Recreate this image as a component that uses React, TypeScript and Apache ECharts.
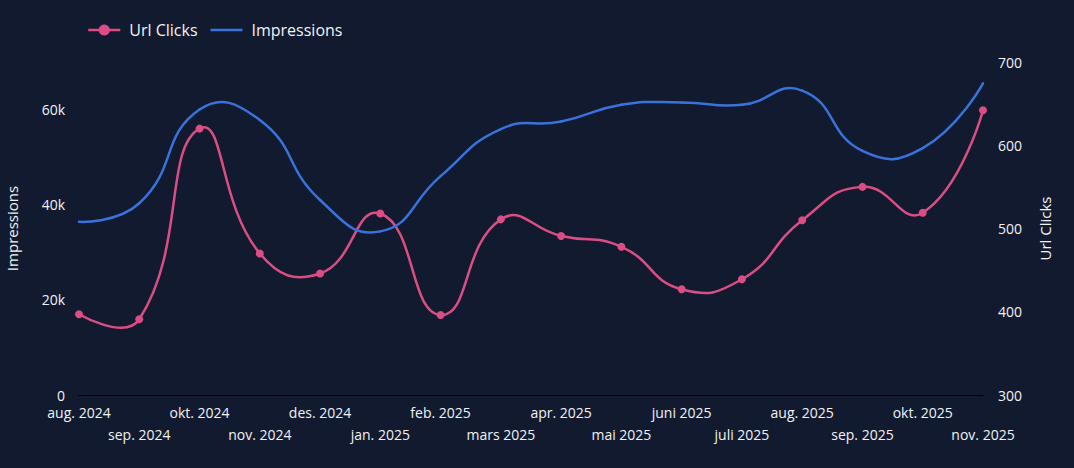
import React, { useEffect, useRef } from "react";
import * as echarts from "echarts";

const months = [
  "aug. 2024", "sep. 2024", "okt. 2024", "nov. 2024", "des. 2024", "jan. 2025",
  "feb. 2025", "mars 2025", "apr. 2025", "mai 2025", "juni 2025", "juli 2025",
  "aug. 2025", "sep. 2025", "okt. 2025", "nov. 2025",
];

const urlClicks = [397, 391, 620, 470, 446, 518, 396, 511, 491, 478, 427, 439, 510, 550, 519, 642];

const impressions = [
  36400, 40300, 60000, 57800, 41000, 34400, 46000, 55900, 57500, 61000, 61500, 61000,
  64000, 51300, 51900, 65500,
];

const BG = "#111a2e";
const PINK = "#dc4d85";
const BLUE = "#3a72dd";
const TEXT = "#f2f2f5";
const FONT = "'Open Sans', Lato, sans-serif";
const SMOOTH = 0.5;

// Spline through the projected points: each point's control handles lie along
// the chord (next - prev), split by the lengths of the neighbouring segments.
function splineSeries(values: number[], yAxisIndex: number, color: string, z: number) {
  return {
    type: "custom",
    yAxisIndex,
    z,
    silent: true,
    data: values.map((v, i) => [i, v]),
    encode: { x: 0, y: 1 },
    renderItem: (params: any, api: any) => {
      const k = params.dataIndex;
      const n = values.length;
      if (k >= n - 1) return null;
      const pts: number[][] = values.map((v, j) => api.coord([j, v]));
      const handles = (j: number) => {
        const p = pts[j];
        if (j === 0 || j === n - 1) return { inP: p, outP: p };
        const prev = pts[j - 1];
        const next = pts[j + 1];
        const vx = next[0] - prev[0];
        const vy = next[1] - prev[1];
        const lp = Math.hypot(p[0] - prev[0], p[1] - prev[1]);
        const ln = Math.hypot(next[0] - p[0], next[1] - p[1]);
        const r = ln / (ln + lp);
        return {
          inP: [p[0] - vx * SMOOTH * (1 - r), p[1] - vy * SMOOTH * (1 - r)],
          outP: [p[0] + vx * SMOOTH * r, p[1] + vy * SMOOTH * r],
        };
      };
      const a = pts[k];
      const b = pts[k + 1];
      const c0 = handles(k).outP;
      const c1 = handles(k + 1).inP;
      return {
        type: "bezierCurve",
        shape: {
          x1: a[0], y1: a[1], x2: b[0], y2: b[1],
          cpx1: c0[0], cpy1: c0[1], cpx2: c1[0], cpy2: c1[1],
        },
        style: { stroke: color, lineWidth: 2.5, fill: null, lineCap: "round" },
      };
    },
  };
}

export default function App() {
  const ref = useRef<HTMLDivElement>(null);

  useEffect(() => {
    document.body.style.margin = "0";
    const chart = echarts.init(ref.current!, null, { renderer: "svg" });
    chart.setOption({
      animation: false,
      backgroundColor: BG,
      textStyle: { fontFamily: FONT, color: TEXT },
      legend: {
        left: 82,
        top: 17,
        itemWidth: 32,
        itemHeight: 14,
        itemGap: 13,
        textStyle: { color: TEXT, fontSize: 16, fontFamily: FONT, padding: [0, 0, 0, 4] },
        data: [
          {
            name: "Url Clicks",
            lineStyle: { color: PINK, width: 2.5, opacity: 1 },
            itemStyle: { color: PINK },
          },
          {
            name: "Impressions",
            icon: "path://M0,0h32v2.5h-32z",
            itemStyle: { color: BLUE },
          },
        ],
      },
      grid: {
        left: 79,
        right: 91,
        top: 62,
        bottom: 73,
        containLabel: false,
        outerBoundsMode: "none",
      },
      xAxis: {
        type: "category",
        data: months,
        boundaryGap: false,
        axisLine: { show: true, lineStyle: { color: "#000000", width: 1 } },
        axisTick: { show: false },
        axisLabel: {
          interval: 0,
          color: TEXT,
          fontSize: 14,
          fontFamily: FONT,
          lineHeight: 22,
          margin: 6,
          formatter: (v: string, i: number) => (i % 2 ? "\n" + v : v),
        },
        splitLine: { show: false },
      },
      yAxis: [
        {
          type: "value",
          name: "Impressions",
          nameLocation: "middle",
          nameGap: 60,
          nameTextStyle: { color: TEXT, fontSize: 15, fontFamily: FONT },
          min: 0,
          max: 70000,
          interval: 20000,
          axisLine: { show: false },
          axisTick: { show: false },
          splitLine: { show: false },
          axisLabel: {
            color: TEXT,
            fontSize: 14,
            lineHeight: 12,
            fontFamily: FONT,
            margin: 14,
            showMaxLabel: false,
            formatter: (v: number) => (v === 0 ? "0" : v / 1000 + "k"),
          },
        },
        {
          type: "value",
          name: "Url Clicks",
          nameLocation: "middle",
          nameGap: 54,
          nameTextStyle: { color: TEXT, fontSize: 15, fontFamily: FONT },
          min: 300,
          max: 700,
          interval: 100,
          position: "right",
          axisLine: { show: false },
          axisTick: { show: false },
          splitLine: { show: false },
          axisLabel: { color: TEXT, fontSize: 14, fontFamily: FONT, margin: 15 },
        },
      ],
      series: [
        {
          name: "Url Clicks",
          type: "line",
          yAxisIndex: 1,
          data: urlClicks,
          symbol: "circle",
          symbolSize: 8,
          z: 5,
          itemStyle: { color: PINK },
          lineStyle: { color: PINK, width: 2.5, opacity: 0 },
        },
        {
          name: "Impressions",
          type: "line",
          yAxisIndex: 0,
          data: impressions,
          symbol: "none",
          itemStyle: { color: BLUE },
          lineStyle: { color: BLUE, width: 2.5, opacity: 0 },
        },
        splineSeries(urlClicks, 1, PINK, 2),
        splineSeries(impressions, 0, BLUE, 3),
      ],
    });
    return () => chart.dispose();
  }, []);

  return (
    <div
      ref={ref}
      style={{ position: "fixed", left: 0, top: 0, width: 1074, height: 468, background: BG }}
    />
  );
}
